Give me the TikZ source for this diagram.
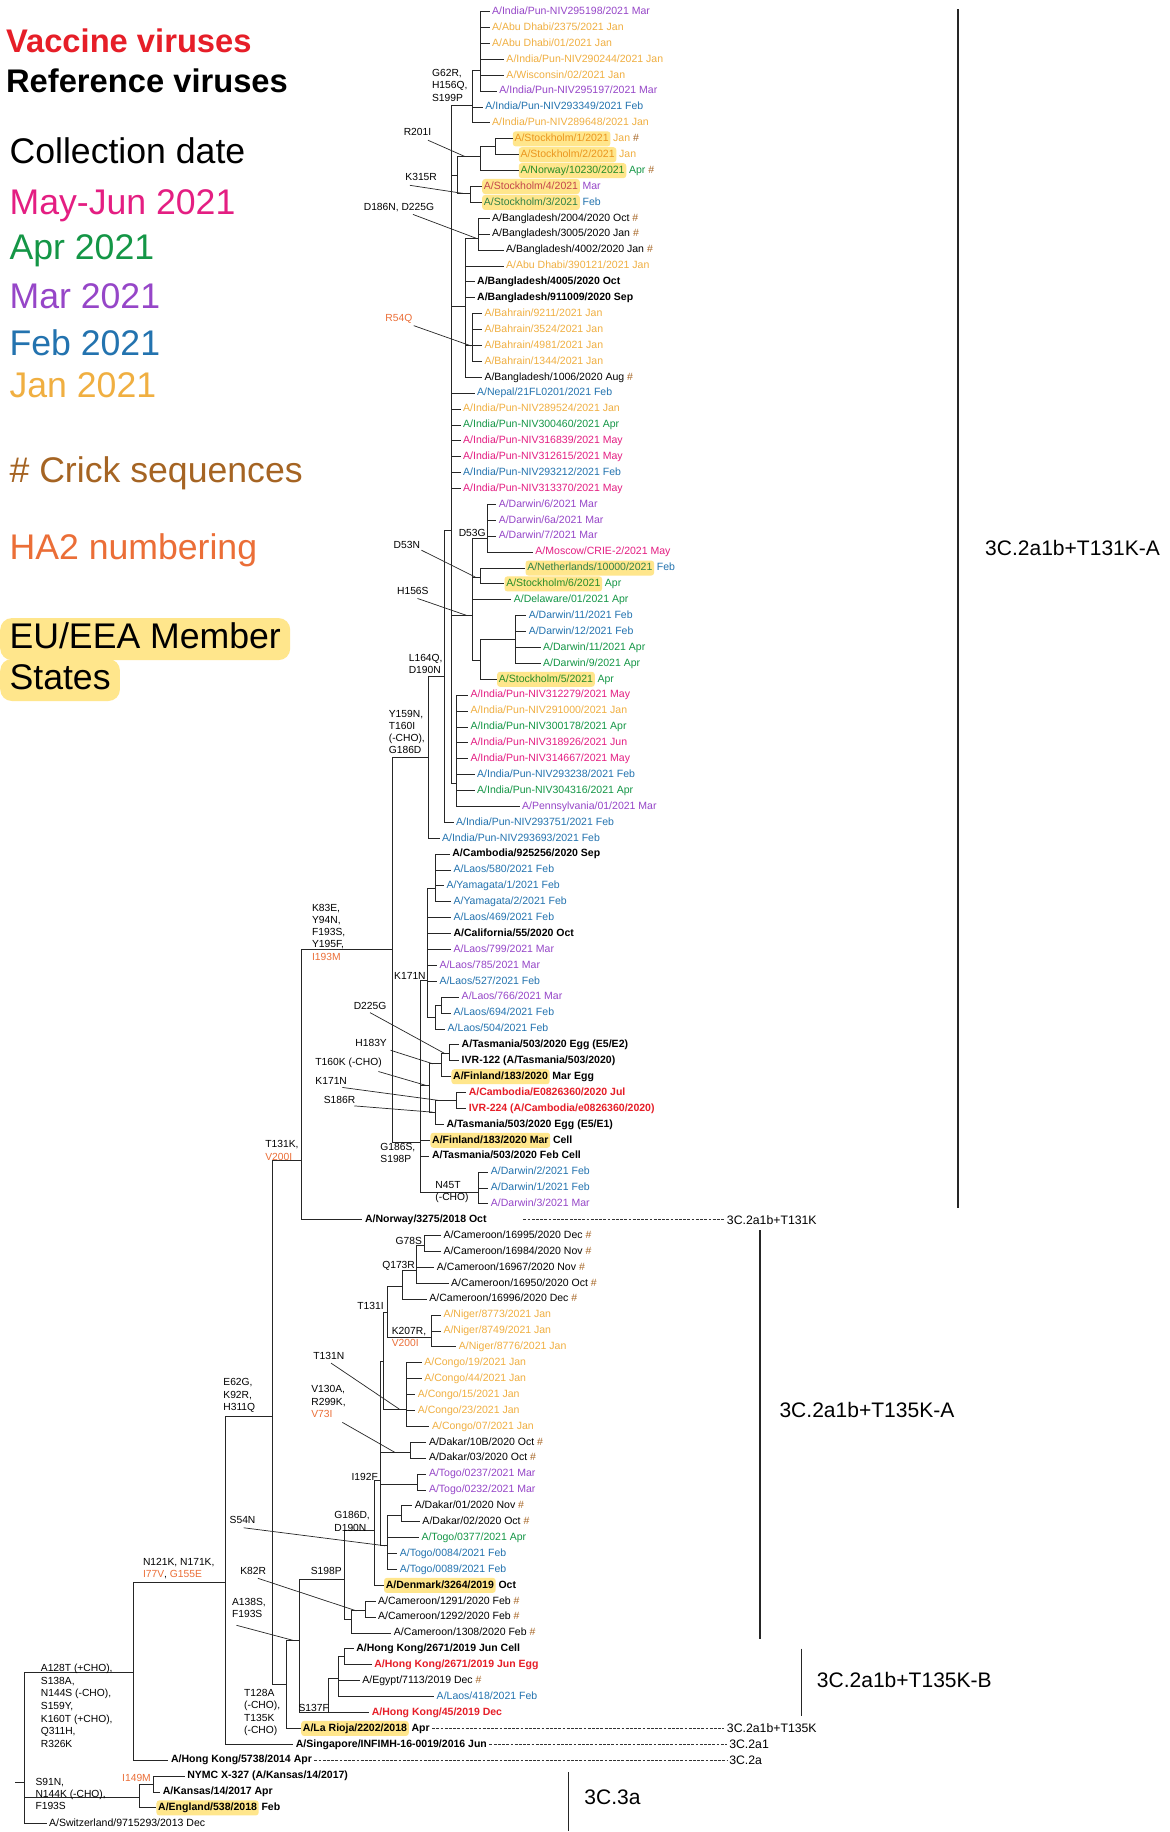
\documentclass[tikz,border=0pt]{standalone}
\usepackage{fontspec}
\setmainfont{Liberation Sans}
\usepackage{xcolor}
\usetikzlibrary{positioning}
\definecolor{vacRed}{RGB}{230,30,40}
\definecolor{mayJun}{RGB}{228,30,130}
\definecolor{aprGreen}{RGB}{20,150,70}
\definecolor{marPurple}{RGB}{150,70,200}
\definecolor{febBlue}{RGB}{35,115,175}
\definecolor{janOrange}{RGB}{240,175,65}
\definecolor{crickBrown}{RGB}{165,100,35}
\definecolor{haOrange}{RGB}{235,110,55}
\definecolor{euYellow}{RGB}{255,230,140}
\definecolor{hlJan}{RGB}{235,150,30}
\definecolor{hlFeb}{RGB}{50,130,70}
\definecolor{hlMar}{RGB}{195,70,75}
\definecolor{hlApr}{RGB}{40,140,40}
\newcommand{\crk}{\textcolor{crickBrown}{\#}}
\newcommand{\tip}[5][]{\node[tiplbl,#1] (#2) at ({#3-2},{10+(#4-1)*13.605}) {#5};}
\newcommand{\hltip}[6][]{\node[tiplbl,hlbox,#1] (#2) at (#3,{10+(#4-1)*13.605}) {#5};
  \node[tiplbl,#1,right=0pt of #2] (#2s) {#6};}
\newcommand{\kids}[2]{\foreach \kid in {#2} {\draw[branch] (#1) |- (\kid);}}

\begin{document}
\begin{tikzpicture}[x=1pt,y=-1pt,
    tiplbl/.style={anchor=west, inner xsep=2pt, inner ysep=1pt, text height=6.6pt, text depth=1.9pt, font=\fontsize{9}{11}\selectfont},
    refv/.style={font=\fontsize{9}{11}\selectfont\bfseries},
    vacv/.style={refv, text=vacRed},
    cjan/.style={text=janOrange}, cfeb/.style={text=febBlue}, cmar/.style={text=marPurple},
    capr/.style={text=aprGreen}, cmay/.style={text=mayJun},
    hlbox/.style={fill=euYellow, rounded corners=2.5pt, inner xsep=1.5pt, inner ysep=2.2pt},
    mutlbl/.style={anchor=west, align=left, inner sep=1pt, font=\fontsize{8.8}{10.5}\selectfont},
    branch/.style={draw=black!85, line width=0.8pt},
    leader/.style={draw=black!85, line width=0.6pt},
    dashline/.style={draw=black!80, line width=0.5pt, dash pattern=on 2.4pt off 1.2pt},
    cladebar/.style={draw=black!85, line width=1.2pt},
    cladebig/.style={anchor=west, inner sep=0pt, font=\fontsize{18}{20}\selectfont},
    cladesmall/.style={anchor=west, inner xsep=2pt, font=\fontsize{10.5}{12}\selectfont},
    legtxt/.style={anchor=base west, inner sep=0pt, font=\fontsize{30.5}{34}\selectfont},
    legbold/.style={anchor=base west, inner sep=0pt, font=\fontsize{28}{32}\selectfont\bfseries}
  ]
  \useasboundingbox (0,0) rectangle (1001,1568);
  \fill[white] (0,0) rectangle (1001,1568);

  % legend
  \node[legbold, text=vacRed] (lvac) at (5,45) {Vaccine viruses};
  \node[legbold] (lref) at (5,79) {Reference viruses};
  \node[legtxt] (lcol) at (8,140) {Collection date};
  \node[legtxt, text=mayJun] (lmay) at (8,184) {May-Jun 2021};
  \node[legtxt, text=aprGreen] (lapr) at (8,222) {Apr 2021};
  \node[legtxt, text=marPurple] (lmar) at (8,264) {Mar 2021};
  \node[legtxt, text=febBlue] (lfeb) at (8,304) {Feb 2021};
  \node[legtxt, text=janOrange] (ljan) at (8,340) {Jan 2021};
  \node[legtxt, text=crickBrown] (lcrk) at (8,413) {\# Crick sequences};
  \node[legtxt, text=haOrange] (lha) at (8,479) {HA2 numbering};
  \node[legtxt, fill=euYellow, rounded corners=10pt, inner xsep=8pt, inner ysep=3pt, text height=23pt, text depth=7pt] (leu) at (0,555) {EU/EEA Member};
  \node[legtxt, fill=euYellow, rounded corners=10pt, inner xsep=8pt, inner ysep=3pt, text height=23pt, text depth=7pt] (lsta) at (0,590) {States};

  % tips, clade 3C.2a1b+T131K-A
  \tip[cmar]{t1}{421}{1}{A/India/Pun-NIV295198/2021 Mar}
  \tip[cjan]{t2}{421}{2}{A/Abu Dhabi/2375/2021 Jan}
  \tip[cjan]{t3}{421}{3}{A/Abu Dhabi/01/2021 Jan}
  \tip[cjan]{t4}{433.3}{4}{A/India/Pun-NIV290244/2021 Jan}
  \tip[cjan]{t5}{433.3}{5}{A/Wisconsin/02/2021 Jan}
  \tip[cmar]{t6}{427.3}{6}{A/India/Pun-NIV295197/2021 Mar}
  \tip[cfeb]{t7}{415.3}{7}{A/India/Pun-NIV293349/2021 Feb}
  \tip[cjan]{t8}{421}{8}{A/India/Pun-NIV289648/2021 Jan}
  \hltip{t9}{438.7}{9}{\color{hlJan}A/Stockholm/1/2021}{\color{janOrange}Jan \crk}
  \hltip{t10}{443.8}{10}{\color{hlJan}A/Stockholm/2/2021}{\color{janOrange}Jan}
  \hltip{t11}{443.8}{11}{\color{hlApr}A/Norway/10230/2021}{\color{aprGreen}Apr \crk}
  \hltip{t12}{412.5}{12}{\color{hlMar}A/Stockholm/4/2021}{\color{marPurple}Mar}
  \hltip{t13}{412.5}{13}{\color{hlFeb}A/Stockholm/3/2021}{\color{febBlue}Feb}
  \tip{t14}{421}{14}{A/Bangladesh/2004/2020 Oct \crk}
  \tip{t15}{421}{15}{A/Bangladesh/3005/2020 Jan \crk}
  \tip{t16}{433}{16}{A/Bangladesh/4002/2020 Jan \crk}
  \tip[cjan]{t17}{433}{17}{A/Abu Dhabi/390121/2021 Jan}
  \tip[refv]{t18}{408.2}{18}{A/Bangladesh/4005/2020 Oct}
  \tip[refv]{t19}{408.2}{19}{A/Bangladesh/911009/2020 Sep}
  \tip[cjan]{t20}{414.5}{20}{A/Bahrain/9211/2021 Jan}
  \tip[cjan]{t21}{414.5}{21}{A/Bahrain/3524/2021 Jan}
  \tip[cjan]{t22}{414.5}{22}{A/Bahrain/4981/2021 Jan}
  \tip[cjan]{t23}{414.5}{23}{A/Bahrain/1344/2021 Jan}
  \tip{t24}{414.5}{24}{A/Bangladesh/1006/2020 Aug \crk}
  \tip[cfeb]{t25}{408.2}{25}{A/Nepal/21FL0201/2021 Feb}
  \tip[cjan]{t26}{396.2}{26}{A/India/Pun-NIV289524/2021 Jan}
  \tip[capr]{t27}{396.2}{27}{A/India/Pun-NIV300460/2021 Apr}
  \tip[cmay]{t28}{396.2}{28}{A/India/Pun-NIV316839/2021 May}
  \tip[cmay]{t29}{396.2}{29}{A/India/Pun-NIV312615/2021 May}
  \tip[cfeb]{t30}{396.2}{30}{A/India/Pun-NIV293212/2021 Feb}
  \tip[cmay]{t31}{396.2}{31}{A/India/Pun-NIV313370/2021 May}
  \tip[cmar]{t32}{426.7}{32}{A/Darwin/6/2021 Mar}
  \tip[cmar]{t33}{426.7}{33}{A/Darwin/6a/2021 Mar}
  \tip[cmar]{t34}{426.7}{34}{A/Darwin/7/2021 Mar}
  \tip[cmay]{t35}{458.1}{35}{A/Moscow/CRIE-2/2021 May}
  \hltip{t36}{449.6}{36}{\color{hlFeb}A/Netherlands/10000/2021}{\color{febBlue}Feb}
  \hltip{t37}{431.6}{37}{\color{hlApr}A/Stockholm/6/2021}{\color{aprGreen}Apr}
  \tip[capr]{t38}{439.6}{38}{A/Delaware/01/2021 Apr}
  \tip[cfeb]{t39}{452.4}{39}{A/Darwin/11/2021 Feb}
  \tip[cfeb]{t40}{452.4}{40}{A/Darwin/12/2021 Feb}
  \tip[capr]{t41}{464.7}{41}{A/Darwin/11/2021 Apr}
  \tip[capr]{t42}{464.7}{42}{A/Darwin/9/2021 Apr}
  \hltip{t43}{425.3}{43}{\color{hlApr}A/Stockholm/5/2021}{\color{aprGreen}Apr}
  \tip[cmay]{t44}{402.5}{44}{A/India/Pun-NIV312279/2021 May}
  \tip[cjan]{t45}{402.5}{45}{A/India/Pun-NIV291000/2021 Jan}
  \tip[capr]{t46}{402.5}{46}{A/India/Pun-NIV300178/2021 Apr}
  \tip[cmay]{t47}{402.5}{47}{A/India/Pun-NIV318926/2021 Jun}
  \tip[cmay]{t48}{402.5}{48}{A/India/Pun-NIV314667/2021 May}
  \tip[cfeb]{t49}{408.2}{49}{A/India/Pun-NIV293238/2021 Feb}
  \tip[capr]{t50}{408.2}{50}{A/India/Pun-NIV304316/2021 Apr}
  \tip[cmar]{t51}{446.7}{51}{A/Pennsylvania/01/2021 Mar}
  \tip[cfeb]{t52}{390.2}{52}{A/India/Pun-NIV293751/2021 Feb}
  \tip[cfeb]{t53}{378.2}{53}{A/India/Pun-NIV293693/2021 Feb}
  \tip[refv]{t54}{387}{54}{A/Cambodia/925256/2020 Sep}
  \tip[cfeb]{t55}{388}{55}{A/Laos/580/2021 Feb}
  \tip[cfeb]{t56}{382}{56}{A/Yamagata/1/2021 Feb}
  \tip[cfeb]{t57}{388}{57}{A/Yamagata/2/2021 Feb}
  \tip[cfeb]{t58}{388}{58}{A/Laos/469/2021 Feb}
  \tip[refv]{t59}{388}{59}{A/California/55/2020 Oct}
  \tip[cmar]{t60}{388}{60}{A/Laos/799/2021 Mar}
  \tip[cmar]{t61}{376}{61}{A/Laos/785/2021 Mar}
  \tip[cfeb]{t62}{376}{62}{A/Laos/527/2021 Feb}
  \tip[cmar]{t63}{395}{63}{A/Laos/766/2021 Mar}
  \tip[cfeb]{t64}{388}{64}{A/Laos/694/2021 Feb}
  \tip[cfeb]{t65}{383}{65}{A/Laos/504/2021 Feb}
  \tip[refv]{t66}{395}{66}{A/Tasmania/503/2020 Egg (E5/E2)}
  \tip[refv]{t67}{395}{67}{IVR-122 (A/Tasmania/503/2020)}
  \hltip[refv]{t68}{386.2}{68}{A/Finland/183/2020}{Mar Egg}
  \tip[vacv]{t69}{401}{69}{A/Cambodia/E0826360/2020 Jul}
  \tip[vacv]{t70}{401}{70}{IVR-224 (A/Cambodia/e0826360/2020)}
  \tip[refv]{t71}{382}{71}{A/Tasmania/503/2020 Egg (E5/E1)}
  \hltip[refv]{t72}{368.2}{72}{A/Finland/183/2020 Mar}{Cell}
  \tip[refv]{t73}{369.6}{73}{A/Tasmania/503/2020 Feb Cell}
  \tip[cfeb]{t74}{420}{74}{A/Darwin/2/2021 Feb}
  \tip[cfeb]{t75}{420}{75}{A/Darwin/1/2021 Feb}
  \tip[cmar]{t76}{420}{76}{A/Darwin/3/2021 Mar}
  \tip[refv]{t77}{312.2}{77}{A/Norway/3275/2018 Oct}

  % tips, clades 3C.2a1b+T135K and older
  \tip{t78}{379.4}{78}{A/Cameroon/16995/2020 Dec \crk}
  \tip{t79}{379.4}{79}{A/Cameroon/16984/2020 Nov \crk}
  \tip{t80}{373.8}{80}{A/Cameroon/16967/2020 Nov \crk}
  \tip{t81}{386}{81}{A/Cameroon/16950/2020 Oct \crk}
  \tip{t82}{367.3}{82}{A/Cameroon/16996/2020 Dec \crk}
  \tip[cjan]{t83}{379.4}{83}{A/Niger/8773/2021 Jan}
  \tip[cjan]{t84}{379.4}{84}{A/Niger/8749/2021 Jan}
  \tip[cjan]{t85}{392.5}{85}{A/Niger/8776/2021 Jan}
  \tip[cjan]{t86}{363}{86}{A/Congo/19/2021 Jan}
  \tip[cjan]{t87}{363}{87}{A/Congo/44/2021 Jan}
  \tip[cjan]{t88}{357.4}{88}{A/Congo/15/2021 Jan}
  \tip[cjan]{t89}{357.4}{89}{A/Congo/23/2021 Jan}
  \tip[cjan]{t90}{369.6}{90}{A/Congo/07/2021 Jan}
  \tip{t91}{367}{91}{A/Dakar/10B/2020 Oct \crk}
  \tip{t92}{367}{92}{A/Dakar/03/2020 Oct \crk}
  \tip[cmar]{t93}{367}{93}{A/Togo/0237/2021 Mar}
  \tip[cmar]{t94}{367}{94}{A/Togo/0232/2021 Mar}
  \tip{t95}{354.8}{95}{A/Dakar/01/2020 Nov \crk}
  \tip{t96}{361.4}{96}{A/Dakar/02/2020 Oct \crk}
  \tip[capr]{t97}{360.6}{97}{A/Togo/0377/2021 Apr}
  \tip[cfeb]{t98}{342}{98}{A/Togo/0084/2021 Feb}
  \tip[cfeb]{t99}{342}{99}{A/Togo/0089/2021 Feb}
  \hltip[refv]{t100}{328.5}{100}{A/Denmark/3264/2019}{Oct}
  \tip{t101}{323.4}{101}{A/Cameroon/1291/2020 Feb \crk}
  \tip{t102}{323.4}{102}{A/Cameroon/1292/2020 Feb \crk}
  \tip{t103}{337}{103}{A/Cameroon/1308/2020 Feb \crk}
  \tip[refv]{t104}{304.8}{104}{A/Hong Kong/2671/2019 Jun Cell}
  \tip[vacv]{t105}{320.2}{105}{A/Hong Kong/2671/2019 Jun Egg}
  \tip{t106}{310}{106}{A/Egypt/7113/2019 Dec \crk}
  \tip[cfeb]{t107}{373.6}{107}{A/Laos/418/2021 Feb}
  \tip[vacv]{t108}{318}{108}{A/Hong Kong/45/2019 Dec}
  \hltip[refv]{t109}{257.6}{109}{A/La Rioja/2202/2018}{Apr}
  \tip[refv]{t110}{253}{110}{A/Singapore/INFIMH-16-0019/2016 Jun}
  \tip[refv]{t111}{146.2}{111}{A/Hong Kong/5738/2014 Apr}
  \tip[refv]{t112}{160.1}{112}{NYMC X-327 (A/Kansas/14/2017)}
  \tip[refv]{t113}{139.2}{113}{A/Kansas/14/2017 Apr}
  \hltip[refv]{t114}{133.7}{114}{A/England/538/2018}{Feb}
  \tip{t115}{41.8}{115}{A/Switzerland/9715293/2013 Dec}

  % internal nodes
  \coordinate (nTop) at (411,60);
  \coordinate (nG62) at (404,90);
  \coordinate (nS12) at (423.9,125.6);
  \coordinate (nR201) at (411,134.1);
  \coordinate (nK315) at (402.5,165.6);
  \coordinate (nP) at (391.5,150);
  \coordinate (nD186) at (409.6,204.1);
  \coordinate (nBah) at (404,296);
  \coordinate (nBgd) at (398.2,262.6);
  \coordinate (nD7) at (416.8,461);
  \coordinate (nD53) at (411,494);
  \coordinate (nDw) at (441,547);
  \coordinate (nDws) at (411,565);
  \coordinate (nH156) at (404.5,526.6);
  \coordinate (nQ) at (391,670.8);
  \coordinate (nB386) at (386.8,454);
  \coordinate (nL) at (380,579.4);
  \coordinate (nY) at (366.8,648);
  \coordinate (nCy) at (372.5,760.7);
  \coordinate (nL76) at (378.2,860.6);
  \coordinate (nL5) at (372.5,870.6);
  \coordinate (nK171) at (366,839.2);
  \coordinate (nTas) at (384.5,901.9);
  \coordinate (nH183) at (378.2,910.5);
  \coordinate (nCam) at (390.5,941.9);
  \coordinate (nS186) at (372.5,951.9);
  \coordinate (nT160) at (368,929.1);
  \coordinate (nN45) at (409.6,1021);
  \coordinate (nG) at (359.7,977.6);
  \coordinate (nK) at (336,812.7);
  \coordinate (nT131) at (258.3,993.3);
  \coordinate (nG78) at (363,1066.1);
  \coordinate (nQ173) at (356.5,1087.5);
  \coordinate (nC344) at (344.3,1101);
  \coordinate (nK207) at (369.6,1144.6);
  \coordinate (nT131I) at (332,1123);
  \coordinate (nCongo) at (348.3,1206);
  \coordinate (nP2) at (328.6,1165);
  \coordinate (nDk10) at (351,1243.1);
  \coordinate (nTogo) at (357.1,1270.8);
  \coordinate (nDk01) at (343.3,1297.3);
  \coordinate (nS54) at (332,1323);
  \coordinate (nP3) at (326,1267.3);
  \coordinate (nP4) at (320.4,1310);
  \coordinate (nC129) at (313.2,1378.7);
  \coordinate (nK82) at (301,1386);
  \coordinate (nS198) at (294.6,1351.5);
  \coordinate (nHKp) at (294.7,1418);
  \coordinate (nHKs) at (290,1437);
  \coordinate (nS137) at (280.8,1465.7);
  \coordinate (nX) at (256.5,1404);
  \coordinate (nT135) at (245.5,1441.4);
  \coordinate (nE) at (233.5,1212.6);
  \coordinate (nN) at (193.3,1354);
  \coordinate (nH) at (114.5,1431.5);
  \coordinate (nI149) at (131.3,1527);
  \coordinate (nS91) at (119.7,1538.5);
  \coordinate (nRoot) at (21,1526);
  \coordinate (nStub) at (13,1526);

  % branches
  \kids{nTop}{t1,t2,t3,t4,t5,t6}
  \kids{nG62}{nTop,t7,t8}
  \kids{nS12}{t9,t10}
  \kids{nR201}{nS12,t11}
  \kids{nK315}{t12,t13}
  \kids{nP}{nR201,nK315}
  \kids{nD186}{t14,t15,t16}
  \kids{nBah}{t20,t21,t22,t23}
  \kids{nBgd}{nD186,t17,t18,t19,nBah,t24}
  \kids{nD7}{t32,t33,t34,t35}
  \kids{nD53}{t36,t37}
  \kids{nDw}{t39,t40,t41,t42}
  \kids{nDws}{nDw,t43}
  \kids{nH156}{nD7,nD53,t38,nDws}
  \kids{nQ}{t44,t45,t46,t47,t48,t49,t50,t51}
  \kids{nB386}{nG62,nP,nBgd,t25,t26,t27,t28,t29,t30,t31,nH156,nQ}
  \kids{nL}{nB386,t52}
  \kids{nY}{nL,t53}
  \kids{nCy}{t54,t55,t56,t57}
  \kids{nL76}{t63,t64}
  \kids{nL5}{nL76,t65}
  \kids{nK171}{nCy,t58,t59,t60,t61,t62,nL5}
  \kids{nTas}{t66,t67}
  \kids{nH183}{nTas,t68}
  \kids{nCam}{t69,t70}
  \kids{nS186}{nCam,t71}
  \kids{nT160}{nH183,nS186}
  \kids{nN45}{t74,t75,t76}
  \kids{nG}{nK171,nT160,t72,t73,nN45}
  \kids{nK}{nY,nG}
  \kids{nT131}{nK,t77}
  \kids{nG78}{t78,t79}
  \kids{nQ173}{nG78,t80,t81}
  \kids{nC344}{nQ173,t82}
  \kids{nK207}{t83,t84,t85}
  \kids{nT131I}{nC344,nK207}
  \kids{nCongo}{t86,t87,t88,t89,t90}
  \kids{nP2}{nT131I,nCongo}
  \kids{nDk10}{t91,t92}
  \kids{nTogo}{t93,t94}
  \kids{nDk01}{t95,t96}
  \kids{nS54}{nDk01,t97,t98,t99}
  \kids{nP3}{nP2,nDk10,nTogo,nS54}
  \kids{nP4}{nP3,t100}
  \kids{nC129}{t101,t102}
  \kids{nK82}{nC129,t103}
  \kids{nS198}{nP4,nK82}
  \kids{nHKp}{t104,t105}
  \kids{nHKs}{nHKp,t106,t107}
  \kids{nS137}{nHKs,t108}
  \kids{nX}{nS198,nS137}
  \kids{nT135}{nX,t109}
  \kids{nE}{nT131,nT135}
  \kids{nN}{nE,t110}
  \kids{nH}{nN,t111}
  \kids{nI149}{t112,t113}
  \kids{nS91}{nI149,t114}
  \kids{nRoot}{nH,nS91,t115}
  \draw[branch] (nStub) -- (nRoot);

  % amino acid substitutions
  \node[mutlbl] (mG62) at (368.6,73) {G62R,\\H156Q,\\S199P};
  \node[mutlbl] (mR201) at (344.4,112.7) {R201I};
  \node[mutlbl] (mK315) at (345.8,151.3) {K315R};
  \node[mutlbl] (mD186) at (310.2,177.7) {D186N, D225G};
  \node[mutlbl, text=haOrange] (mR54) at (328.7,272.6) {R54Q};
  \node[mutlbl] (mD53G) at (391.5,456) {D53G};
  \node[mutlbl] (mD53N) at (335.8,466.6) {D53N};
  \node[mutlbl] (mH156) at (338.7,505.9) {H156S};
  \node[mutlbl] (mL164) at (348.7,568.4) {L164Q,\\D190N};
  \node[mutlbl] (mY159) at (331.6,626.5) {Y159N,\\T160I\\(-CHO),\\G186D};
  \node[mutlbl] (mK83) at (265.9,797.7) {K83E,\\Y94N,\\F193S,\\Y195F,\\\textcolor{haOrange}{I193M}};
  \node[mutlbl] (mK171a) at (336.2,835.3) {K171N};
  \node[mutlbl] (mD225) at (301.6,861.4) {D225G};
  \node[mutlbl] (mH183) at (303,892.6) {H183Y};
  \node[mutlbl] (mT160) at (268.8,909.8) {T160K (-CHO)};
  \node[mutlbl] (mK171b) at (268.8,925.5) {K171N};
  \node[mutlbl] (mS186) at (275.9,941.2) {S186R};
  \node[mutlbl] (mT131K) at (225.9,984.7) {T131K,\\\textcolor{haOrange}{V200I}};
  \node[mutlbl] (mG186S) at (324.4,986.9) {G186S,\\S198P};
  \node[mutlbl] (mN45) at (371.5,1020) {N45T\\(-CHO)};
  \node[mutlbl] (mG78) at (337.4,1061.9) {G78S};
  \node[mutlbl] (mQ173) at (326,1083.3) {Q173R};
  \node[mutlbl] (mT131I) at (304.7,1117.5) {T131I};
  \node[mutlbl] (mK207) at (334.2,1144.2) {K207R,\\\textcolor{haOrange}{V200I}};
  \node[mutlbl] (mT131N) at (267,1160.4) {T131N};
  \node[mutlbl] (mE62) at (190,1194.4) {E62G,\\K92R,\\H311Q};
  \node[mutlbl] (mV130) at (265.3,1199.6) {V130A,\\R299K,\\\textcolor{haOrange}{V73I}};
  \node[mutlbl] (mI192) at (299.7,1263.8) {I192F};
  \node[mutlbl] (mG186D) at (285,1302.3) {G186D,\\D190N};
  \node[mutlbl] (mS54) at (195.4,1301.3) {S54N};
  \node[mutlbl] (mS198) at (264.8,1344.5) {S198P};
  \node[mutlbl] (mK82) at (204.5,1344.5) {K82R};
  \node[mutlbl] (mN121) at (121.2,1342.6) {N121K, N171K,\\\textcolor{haOrange}{I77V}, \textcolor{haOrange}{G155E}};
  \node[mutlbl] (mA138) at (197.4,1376.5) {A138S,\\F193S};
  \node[mutlbl, font=\fontsize{8.8}{10.9}\selectfont] (mA128) at (33.8,1460) {A128T (+CHO),\\S138A,\\N144S (-CHO),\\S159Y,\\K160T (+CHO),\\Q311H,\\R326K};
  \node[mutlbl] (mT128) at (207.8,1465.7) {T128A\\(-CHO),\\T135K\\(-CHO)};
  \node[mutlbl] (mS137) at (254.3,1462) {S137F};
  \node[mutlbl] (mS91) at (29.2,1535.6) {S91N,\\N144K (-CHO),\\F193S};
  \node[mutlbl, text=haOrange] (mI149) at (103.4,1521.5) {I149M};

  % leader lines to branches
  \coordinate (aR201) at (398.2,134.1);
  \coordinate (aK315) at (396.8,165.6);
  \coordinate (aD186) at (408,204.1);
  \coordinate (aR54) at (403,296);
  \coordinate (aD53N) at (407,494);
  \coordinate (aH156) at (399,526.6);
  \coordinate (aD225) at (381,901.9);
  \coordinate (aH183) at (370.5,910.5);
  \coordinate (aT160) at (365,929.1);
  \coordinate (aK171b) at (376,941.9);
  \coordinate (aS186) at (370.5,951.9);
  \coordinate (aT131N) at (341.7,1206);
  \coordinate (aV130) at (338,1243.1);
  \coordinate (aS54) at (329.5,1323);
  \coordinate (aK82) at (305,1378.7);
  \coordinate (aA138) at (251,1404);
  \draw[leader] ([shift={(-4pt,-3pt)}]mR201.south east) -- (aR201);
  \draw[leader] ([shift={(5pt,-3pt)}]mK315.south west) -- (aK315);
  \draw[leader] ([shift={(12pt,-1pt)}]mD186.south) -- (aD186);
  \draw[leader] ([shift={(0pt,-1pt)}]mR54.south east) -- (aR54);
  \draw[leader] (mD53N.south east) -- (aD53N);
  \draw[leader] ([shift={(4pt,-2pt)}]mH156.south) -- (aH156);
  \draw[leader] ([shift={(0pt,-1pt)}]mD225.south) -- (aD225);
  \draw[leader] ([shift={(2pt,-2pt)}]mH183.south east) -- (aH183);
  \draw[leader] ([shift={(-4pt,-2pt)}]mT160.south east) -- (aT160);
  \draw[leader] ([shift={(-5pt,-1pt)}]mK171b.south east) -- (aK171b);
  \draw[leader] ([shift={(-2pt,-1pt)}]mS186.south east) -- (aS186);
  \draw[leader] ([shift={(2pt,-2pt)}]mT131N.south) -- (aT131N);
  \draw[leader] ([shift={(-4pt,-3pt)}]mV130.south east) -- (aV130);
  \draw[leader] ([shift={(1pt,-2pt)}]mS54.south) -- (aS54);
  \draw[leader] ([shift={(4pt,-2pt)}]mK82.south) -- (aK82);
  \draw[leader] ([shift={(5pt,-5pt)}]mA138.south west) -- (aA138);

  % reference clade labels
  \coordinate (d77) at (448,1044);
  \node[cladesmall] (c131) at (620,1044) {3C.2a1b+T131K};
  \node[cladesmall] (c135) at (620,{10+108*13.605}) {3C.2a1b+T135K};
  \node[cladesmall] (c2a1) at (622,{10+109*13.605}) {3C.2a1};
  \node[cladesmall] (c2a) at (622,{10+110*13.605}) {3C.2a};
  \draw[dashline] (d77) -- (c131);
  \draw[dashline] (t109s) -- (c135);
  \draw[dashline] (t110) -- (c2a1);
  \draw[dashline] (t111) -- (c2a);

  % clade bars
  \coordinate (bA1) at (820,8);
  \coordinate (bA2) at (820,1034);
  \coordinate (bB1) at (650.5,1053);
  \coordinate (bB2) at (650.5,1403);
  \coordinate (bC1) at (686,1411);
  \coordinate (bC2) at (686,1469);
  \coordinate (bD1) at (486.5,1517);
  \coordinate (bD2) at (486.5,1567);
  \draw[cladebar] (bA1) -- (bA2);
  \draw[cladebar] (bB1) -- (bB2);
  \draw[cladebar] (bC1) -- (bC2);
  \draw[cladebar] (bD1) -- (bD2);
  \node[cladebig] (cA) at (843,469) {3C.2a1b+T131K-A};
  \node[cladebig] (cB) at (667,1207) {3C.2a1b+T135K-A};
  \node[cladebig] (cC) at (699,1438) {3C.2a1b+T135K-B};
  \node[cladebig] (cD) at (500,1538) {3C.3a};
\end{tikzpicture}
\end{document}
